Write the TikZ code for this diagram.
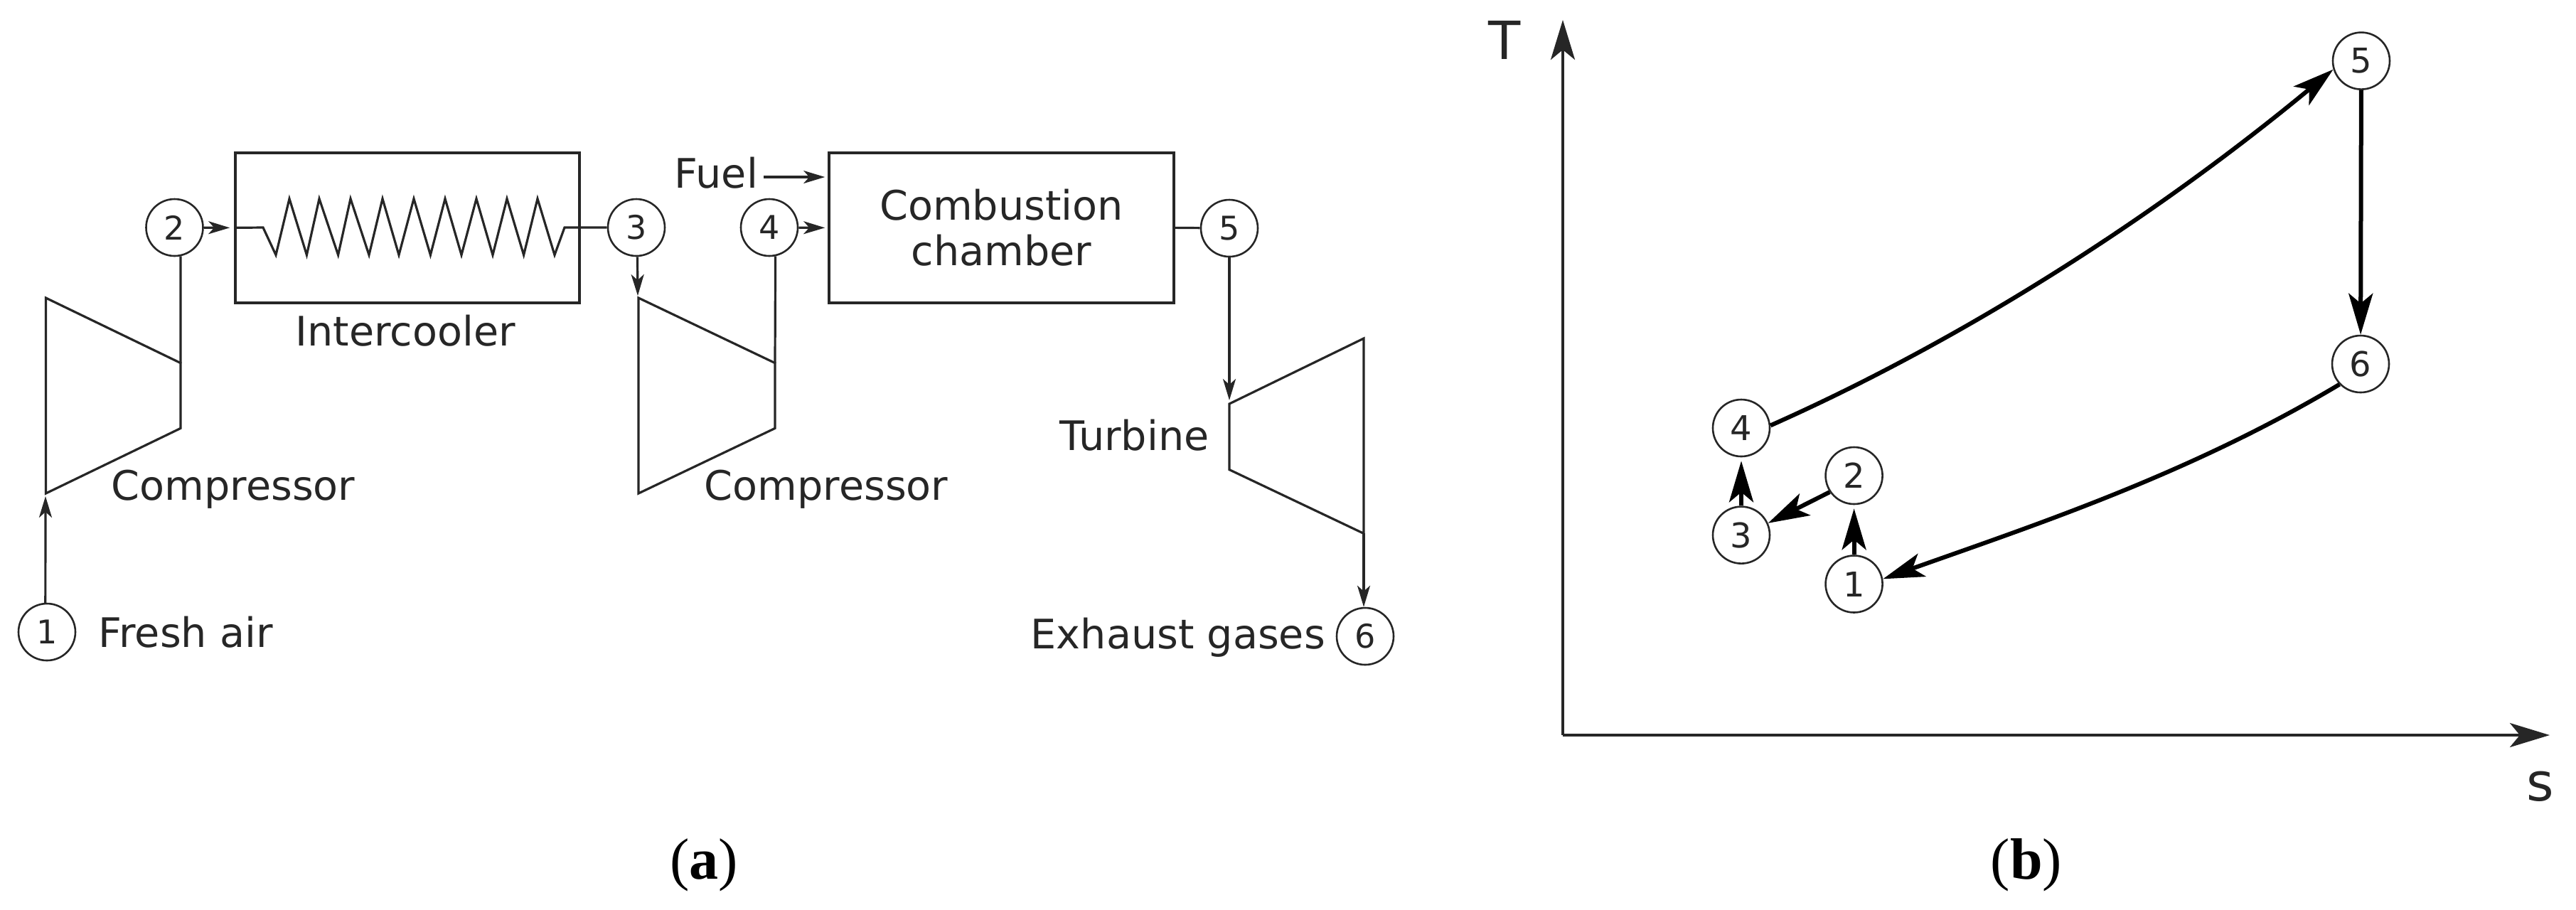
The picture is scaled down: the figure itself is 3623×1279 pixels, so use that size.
\documentclass[tikz,border=0pt]{standalone}
\usepackage{fontspec}
\setmainfont{DejaVu Sans}
\newfontfamily\capfont{Liberation Serif}
\usetikzlibrary{arrows.meta}
\usetikzlibrary{positioning}
\definecolor{linedark}{HTML}{262626}

\begin{document}
\begin{tikzpicture}[x=0.25pt, y=-0.25pt, color=linedark,
    numa/.style={draw, circle, minimum size=20pt, inner sep=0pt, line width=0.65pt, font=\fontsize{11.5}{13}\selectfont},
    numb/.style={draw, circle, minimum size=20pt, inner sep=0pt, line width=0.65pt, font=\fontsize{12}{14}\selectfont},
    unit/.style={draw, minimum height=52.8pt, line width=0.9pt, inner sep=0pt, align=center, font=\fontsize{14.3}{16}\selectfont},
    lab/.style={inner sep=0pt, anchor=base west, font=\fontsize{14.3}{16}\selectfont},
    pipe/.style={line width=0.8pt},
    flow/.style={pipe, -{Stealth[length=7.5pt,width=4.5pt,inset=2pt]}},
    cyclearrow/.style={line width=1.5pt, color=black, -{Stealth[length=14.5pt,width=8.5pt,inset=3.5pt]}},
    axisarrow/.style={line width=1pt, -{Stealth[length=14pt,width=8.5pt,inset=3.5pt]}},
    axislab/.style={inner sep=0pt, anchor=base, font=\fontsize{18.5}{20}\selectfont},
    capt/.style={inner sep=0pt, font=\fontsize{20.5}{24}\selectfont\capfont, color=black}]
    \useasboundingbox (0,0) rectangle (3623,1279);

    % Draw the plant states
    \foreach \name/\x/\y in {1/66/889, 2/245.5/320, 3/895/320, 4/1082/320, 5/1729/321, 6/1920/895}{
        \node[numa] (a\name) at (\x,\y) {\name};
    }
    % Add the two boxes
    \node[unit, minimum width=121pt] (cooler) at (573,320.35) {};
    \node[unit, minimum width=121.25pt] (comb) at (1408.5,320.35) {Combustion\\chamber};

    % Add the compressors and the turbine
    \draw[pipe] (64.5,419) coordinate (c1in) -- (254,510.6) coordinate (c1out) -- (254,602.4) -- (64.5,694) coordinate (c1low) -- cycle;
    \draw[pipe] (898,419) coordinate (c2top) -- (1090,510.6) coordinate (c2out) -- (1090,602.4) -- (898,694) -- cycle;
    \draw[pipe] (1729,568) coordinate (tin) -- (1918,476) -- (1918,750.4) coordinate (tout) -- (1729,660.6) -- cycle;

    % Add the heat exchanger line
    \draw[pipe] (cooler.west) -- (370,320)
        \foreach \x/\y in {388/358.6, 407/279.5, 431.4/358.6, 449/279.5, 475.6/358.6, 493/279.5, 519/358.6, 538/279.5, 561/358.6, 582/279.5, 605.4/358.6, 626/279.5, 649/358.6, 670/279.5, 693/358.6, 713/279.5, 736.6/358.6, 756/279.5, 780/358.6}{ -- (\x,\y) }
        -- (794,320) -- (a3);

    % Connect the plant
    \coordinate (c1tip) at (64,698);
    \coordinate (c2in) at (897,416);
    \coordinate (tip5) at (1729,563);
    \node[lab] (fuel) at (948,264) {Fuel};
    \draw[flow] (a1.93) -- (c1tip);
    \draw[pipe] (c1out) -- (a2.-78);
    \draw[flow, shorten >=1.5pt] (a2) -- (cooler.west);
    \draw[flow] (a3.-88) -- (c2in);
    \draw[pipe] (c2out) -- (a4.-78);
    \draw[flow, shorten >=1pt] (a4) -- (comb.west);
    \coordinate (fuelstart) at (1074,249);
    \draw[flow, shorten >=1pt] (fuelstart) -- (comb.west |- fuelstart);
    \draw[pipe] (comb.east) -- (a5);
    \draw[flow] (a5.south) -- (tip5);
    \draw[flow] (tout) -- (tout |- a6.north);

    % Add the plant labels
    \node[lab] (lab1) at (138,910) {Fresh air};
    \node[lab] (lab2) at (156,703) {Compressor};
    \node[lab] (lab3) at (415,486) {Intercooler};
    \node[lab] (lab4) at (990,703) {Compressor};
    \node[lab] (lab5) at (1490,633) {Turbine};
    \node[lab] (lab6) at (1449,912) {Exhaust gases};
    \node[capt] (capa) at (990,1217) {(\textbf{a})};

    % Draw the T-s axes
    \coordinate (orig) at (2198,1034);
    \coordinate (topT) at (2198,28);
    \coordinate (ends) at (3586,1034);
    \draw[axisarrow] (orig) -- (topT);
    \draw[axisarrow] (orig) -- (ends);
    \node[axislab] (labT) at (2116,83) {T};
    \node[axislab] (labs) at (3573,1126) {s};

    % Draw the cycle states
    \foreach \name/\x/\y in {1/2607.6/821.5, 2/2607.6/669, 3/2449/752.6, 4/2449/602, 5/3321/85.6, 6/3320/512}{
        \node[numb] (b\name) at (\x,\y) {\name};
    }
    \draw[cyclearrow, shorten >=1.25pt] (b1) -- (b2);
    \draw[cyclearrow] (b2.214) -- (b3.24);
    \draw[cyclearrow, shorten >=1.25pt] (b3) -- (b4);
    \draw[cyclearrow] (b4.5) .. controls (2750,483) and (3020,314) .. (b5.197);
    \draw[cyclearrow] (b5) -- (b6);
    \draw[cyclearrow] (b6.224) .. controls (3079,667) and (2863,738) .. (b1.10);
    \node[capt] (capb) at (2850,1217) {(\textbf{b})};
\end{tikzpicture}
\end{document}
